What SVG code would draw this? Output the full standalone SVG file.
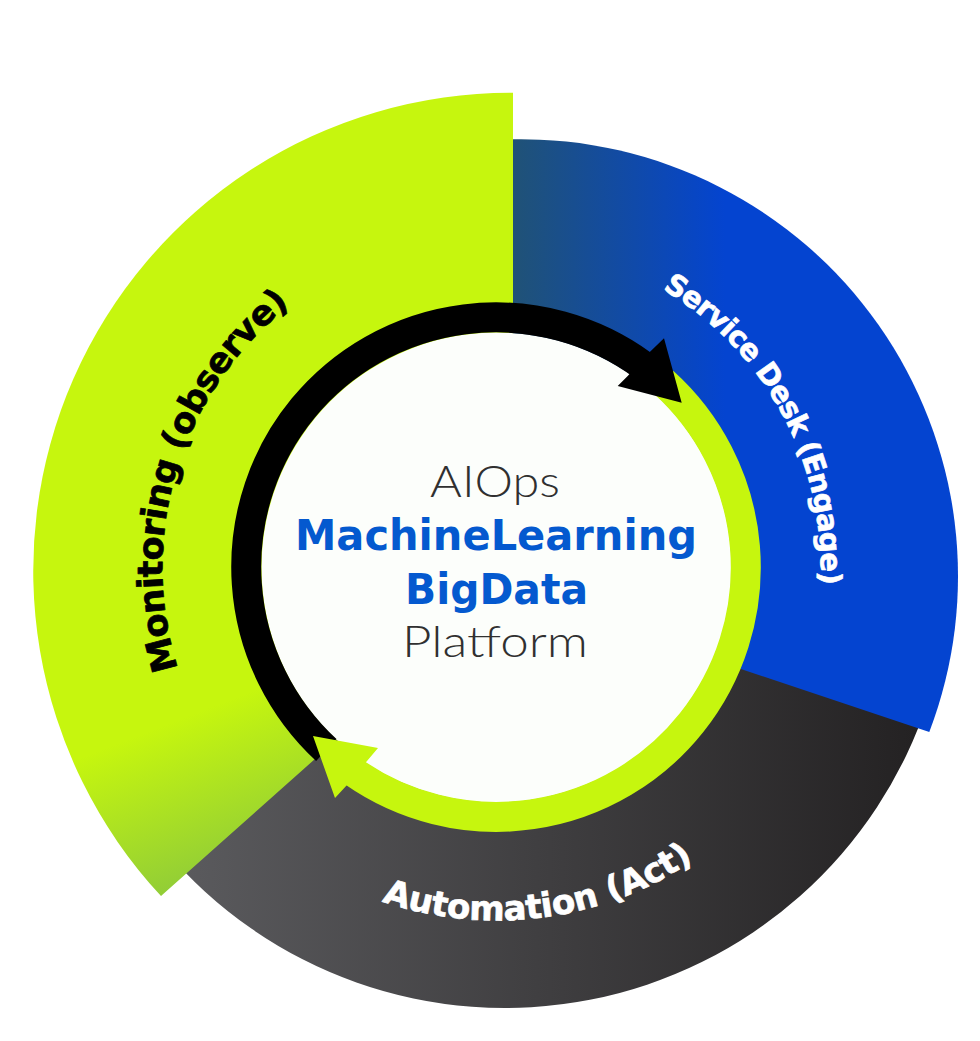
<svg xmlns="http://www.w3.org/2000/svg" width="980" height="1041" viewBox="0 0 980 1041">
<defs>
  <linearGradient id="gGreen" gradientUnits="userSpaceOnUse" x1="230" y1="700" x2="300" y2="880">
    <stop offset="0" stop-color="#C6F60E"/>
    <stop offset="1" stop-color="#86C440"/>
  </linearGradient>
  <linearGradient id="gBlue" gradientUnits="userSpaceOnUse" x1="513" y1="0" x2="725" y2="0">
    <stop offset="0" stop-color="#205276"/>
    <stop offset="1" stop-color="#0444D0"/>
  </linearGradient>
  <linearGradient id="gDark" gradientUnits="userSpaceOnUse" x1="185" y1="0" x2="915" y2="0">
    <stop offset="0" stop-color="#5A5A5D"/>
    <stop offset="1" stop-color="#242223"/>
  </linearGradient>
  <path id="pMon" d="M 295 833.9 A 334 334 0 0 1 479.6 233.9"/>
  <path id="pSvc" d="M 450.8 246.7 A 324 324 0 0 1 737.7 783.9"/>
  <path id="pAut" d="M 183.4 730.5 A 353 353 0 0 0 841.1 643.9"/>
</defs>
<style>
  .lbl { font-family: "DejaVu Sans", "Liberation Sans", sans-serif; font-weight: 700; stroke-width: 0.7; stroke-linejoin: round; }
  .ring { fill: none; stroke-width: 30; }
  .c-light { font-family: Lato, "Open Sans", "DejaVu Sans", sans-serif; font-weight: 300; fill: #303030; font-size: 43px; }
  .c-bold { font-family: "DejaVu Sans", "Liberation Sans", sans-serif; font-weight: 700; fill: #0459CF; font-size: 42px; }
</style>
<rect width="980" height="1041" fill="#FFFFFF"/>

<g id="automation">
  <path d="M 600 600 L 928.2 700.5 A 445 445 0 0 1 164.1 849 L 400 650 Z" fill="url(#gDark)"/>
  <text class="lbl" font-size="34" fill="#FFFFFF" stroke="#FFFFFF"><textPath href="#pAut" startOffset="50%" text-anchor="middle" textLength="326">Automation (Act)</textPath></text>
</g>

<g id="monitoring">
  <path d="M 513 400 L 513 92.7 A 478 478 0 0 0 161 896 L 359.8 719.1 Z" fill="url(#gGreen)"/>
  <text class="lbl" font-size="35" fill="#000000" stroke="#000000"><textPath href="#pMon" startOffset="50%" text-anchor="middle" textLength="405">Monitoring (observe)</textPath></text>
</g>

<g id="service-desk">
  <path d="M 513 400 L 513 139.3 A 437 437 0 0 1 929.3 732 L 684.8 650.3 Z" fill="url(#gBlue)"/>
  <text class="lbl" font-size="29" fill="#FFFFFF" stroke="#FFFFFF"><textPath href="#pSvc" startOffset="50%" text-anchor="middle" textLength="352">Service Desk (Engage)</textPath></text>
</g>

<g id="platform">
  <circle cx="496.5" cy="567.5" r="235" fill="#FCFEFB"/>
  <text class="c-light" x="495" y="497" text-anchor="middle" textLength="130" lengthAdjust="spacingAndGlyphs">AIOps</text>
  <text class="c-bold" x="496" y="550" text-anchor="middle" textLength="402" lengthAdjust="spacingAndGlyphs">MachineLearning</text>
  <text class="c-bold" x="496.5" y="604" text-anchor="middle" textLength="183" lengthAdjust="spacingAndGlyphs">BigData</text>
  <text class="c-light" x="495" y="657" text-anchor="middle" textLength="186" lengthAdjust="spacingAndGlyphs">Platform</text>
</g>

<g id="connectors">
  <path class="ring" stroke="#000000" d="M 326.3 750 A 249.5 249.5 0 0 1 643.2 365.6"/>
  <path class="ring" stroke="#C6F60E" d="M 663.4 382.1 A 249.5 249.5 0 0 1 353.4 771.9"/>
  <polygon fill="#000000" points="649,352.7 664,338.3 681.7,402.7 617.7,386 627.7,376"/>
  <polygon fill="#C6F60E" points="367,761 378,748 313,736 335,798 347,785"/>
</g>
</svg>
